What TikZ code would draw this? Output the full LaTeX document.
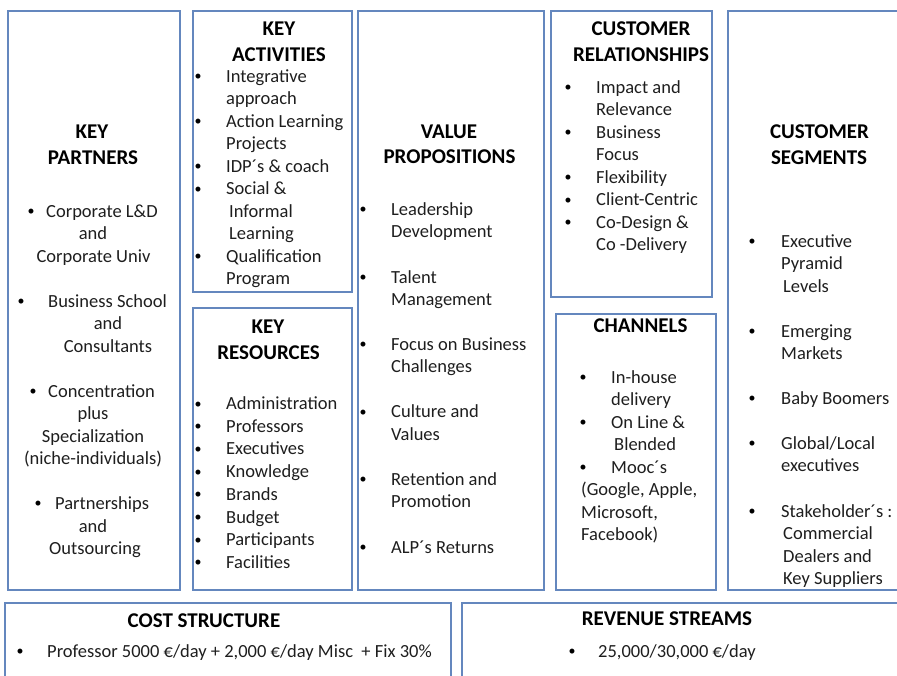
\documentclass[tikz,border=0pt]{standalone}
\usepackage{fontspec}
\setmainfont{Carlito}
\definecolor{bx}{RGB}{100,135,190}
\definecolor{tx}{RGB}{30,30,30}
\begin{document}
\begin{tikzpicture}[x=1pt,y=-1pt,
 box/.style={draw=bx,line width=1.5pt},
 hd/.style={font=\fontsize{21}{26}\selectfont\bfseries,text=black,inner sep=0pt,anchor=base},
 tl/.style={font=\fontsize{18.5}{22.5}\selectfont,text=tx,inner sep=0pt,anchor=base west},
 tc/.style={font=\fontsize{18.5}{22.5}\selectfont,text=tx,inner sep=0pt,anchor=base},
 bu/.style={font=\fontsize{14}{16}\selectfont,text=black,inner sep=0pt,anchor=base,yshift=1.5pt}]
\useasboundingbox (0,0) rectangle (897,675);
\clip (0,0) rectangle (897,675);
% boxes
\draw[box] (8,11) rectangle (180,590);
\draw[box] (193,11) rectangle (352,292);
\draw[box] (193,308) rectangle (352,590);
\draw[box] (358,11) rectangle (544,590);
\draw[box] (551,11) rectangle (712,297);
\draw[box] (556,314) rectangle (716,590);
\draw[box] (728,11) rectangle (910,590);
\draw[box] (5,603) rectangle (451,690);
\draw[box] (462,603) rectangle (910,690);
% Key partners
\node[hd] (kph1) at (92,138) {KEY};
\node[hd] (kph2) at (93,164) {PARTNERS};
\node[bu] (kpb1) at (31,217) {•};
\node[tl] (kp1) at (46,217) {Corporate L\&D};
\node[tc] (kp2) at (93,239) {and};
\node[tc] (kp3) at (93.5,262) {Corporate Univ};
\node[bu] (kpb2) at (21,307) {•};
\node[tl] (kp4) at (48,307) {Business School};
\node[tc] (kp5) at (108,329) {and};
\node[tc] (kp6) at (108,352) {Consultants};
\node[bu] (kpb3) at (33,397) {•};
\node[tl] (kp7) at (48,397) {Concentration};
\node[tc] (kp8) at (93,419) {plus};
\node[tc] (kp9) at (93,442) {Specialization};
\node[tc] (kp10) at (93,464) {(niche-individuals)};
\node[bu] (kpb4) at (38,509) {•};
\node[tl] (kp11) at (55,509) {Partnerships};
\node[tc] (kp12) at (93,532) {and};
\node[tc] (kp13) at (95,554) {Outsourcing};
% Key activities
\node[hd] (kah1) at (279,35) {KEY};
\node[hd] (kah2) at (279,61) {ACTIVITIES};
\node[bu] (kab1) at (198,82) {•};
\node[tl] (ka1) at (226,82) {Integrative};
\node[tl] (ka2) at (226,104.5) {approach};
\node[bu] (kab2) at (198,127) {•};
\node[tl] (ka3) at (226,127) {Action Learning};
\node[tl] (ka4) at (226,149.5) {Projects};
\node[bu] (kab3) at (198,172) {•};
\node[tl] (ka5) at (226,172) {IDP´s \& coach};
\node[bu] (kab4) at (198,194.5) {•};
\node[tl] (ka6) at (226,194.5) {Social \&};
\node[tl] (ka7) at (229,217) {Informal};
\node[tl] (ka8) at (229,239.5) {Learning};
\node[bu] (kab5) at (198,262) {•};
\node[tl] (ka9) at (226,262) {Qualification};
\node[tl] (ka10) at (226,284.5) {Program};
% Key resources
\node[hd] (krh1) at (268,333) {KEY};
\node[hd] (krh2) at (268.5,359) {RESOURCES};
\foreach \t [count=\i from 0] in {Administration,Professors,Executives,Knowledge,Brands,Budget,Participants,Facilities}{
  \node[bu] (krb\i) at (198,409.5+22.7*\i) {•};
  \node[tl] (kr\i) at (226,409.5+22.7*\i) {\t};
}
% Value propositions
\node[hd] (vph1) at (449,138) {VALUE};
\node[hd] (vph2) at (449.5,163) {PROPOSITIONS};
\node[bu] (vpb1) at (363,215) {•};
\node[tl] (vp1) at (391,215) {Leadership};
\node[tl] (vp2) at (391,237.5) {Development};
\node[bu] (vpb2) at (363,283) {•};
\node[tl] (vp3) at (391,283) {Talent};
\node[tl] (vp4) at (391,305.5) {Management};
\node[bu] (vpb3) at (363,350) {•};
\node[tl] (vp5) at (391,350) {Focus on Business};
\node[tl] (vp6) at (391,372.5) {Challenges};
\node[bu] (vpb4) at (363,417.5) {•};
\node[tl] (vp7) at (391,417.5) {Culture and};
\node[tl] (vp8) at (391,440) {Values};
\node[bu] (vpb5) at (363,485) {•};
\node[tl] (vp9) at (391,485) {Retention and};
\node[tl] (vp10) at (391,507.5) {Promotion};
\node[bu] (vpb6) at (363,553) {•};
\node[tl] (vp11) at (391,553) {ALP´s Returns};
% Customer relationships
\node[hd] (crh1) at (641,35) {CUSTOMER};
\node[hd] (crh2) at (641,61) {RELATIONSHIPS};
\node[bu] (crb1) at (568,93) {•};
\node[tl] (cr1) at (596,93) {Impact and};
\node[tl] (cr2) at (596,115.5) {Relevance};
\node[bu] (crb2) at (568,138) {•};
\node[tl] (cr3) at (596,138) {Business};
\node[tl] (cr4) at (596,160.5) {Focus};
\node[bu] (crb3) at (568,183) {•};
\node[tl] (cr5) at (596,183) {Flexibility};
\node[bu] (crb4) at (568,205.5) {•};
\node[tl] (cr6) at (596,205.5) {Client-Centric};
\node[bu] (crb5) at (568,228) {•};
\node[tl] (cr7) at (596,228) {Co-Design \&};
\node[tl] (cr8) at (596,250.5) {Co -Delivery};
% Channels
\node[hd] (chh1) at (640.5,332) {CHANNELS};
\node[bu] (chb1) at (583,383) {•};
\node[tl] (ch1) at (611,383) {In-house};
\node[tl] (ch2) at (611,405.5) {delivery};
\node[bu] (chb2) at (583,428) {•};
\node[tl] (ch3) at (611,428) {On Line \&};
\node[tl] (ch4) at (614,450.5) {Blended};
\node[bu] (chb3) at (583,473) {•};
\node[tl] (ch5) at (611,473) {Mooc´s};
\node[tl] (ch6) at (581,495.5) {(Google, Apple,};
\node[tl] (ch7) at (581,518) {Microsoft,};
\node[tl] (ch8) at (581,540.5) {Facebook)};
% Customer segments
\node[hd] (csh1) at (819.5,138) {CUSTOMER};
\node[hd] (csh2) at (819,164) {SEGMENTS};
\node[bu] (csb1) at (752,247) {•};
\node[tl] (cs1) at (781,247) {Executive};
\node[tl] (cs2) at (781,269.5) {Pyramid};
\node[tl] (cs3) at (783,292) {Levels};
\node[bu] (csb2) at (752,337) {•};
\node[tl] (cs4) at (781,337) {Emerging};
\node[tl] (cs5) at (781,359.5) {Markets};
\node[bu] (csb3) at (752,404) {•};
\node[tl] (cs6) at (781,404) {Baby Boomers};
\node[bu] (csb4) at (752,449) {•};
\node[tl] (cs7) at (781,449) {Global/Local};
\node[tl] (cs8) at (781,471.5) {executives};
\node[bu] (csb5) at (752,517) {•};
\node[tl] (cs9) at (781,517) {Stakeholder´s :};
\node[tl] (cs10) at (783,539.5) {Commercial};
\node[tl] (cs11) at (783,562) {Dealers and};
\node[tl] (cs12) at (783,584.5) {Key Suppliers};
% Cost structure
\node[hd] (csth) at (204,627) {COST STRUCTURE};
\node[bu] (cstb) at (20,657) {•};
\node[tl] (cst1) at (47,657) {Professor 5000 €/day + 2,000 €/day Misc~ + Fix 30\%};
% Revenue streams
\node[hd] (rsh) at (667,625) {REVENUE STREAMS};
\node[bu] (rsb) at (572,657) {•};
\node[tl] (rs1) at (598,657) {25,000/30,000 €/day};
\end{tikzpicture}
\end{document}
